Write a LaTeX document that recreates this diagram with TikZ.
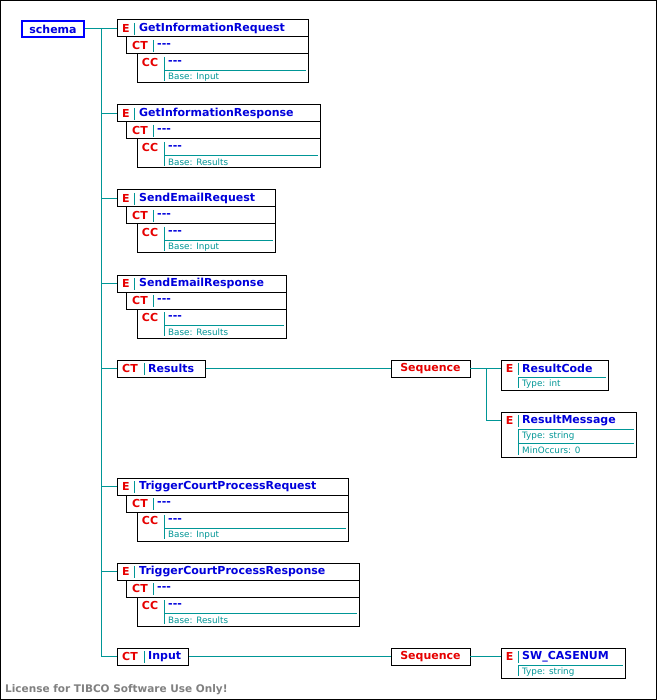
\documentclass[tikz,border=0pt]{standalone}
\usepackage{fontspec}
\setmainfont{DejaVu Sans}
\definecolor{tl}{RGB}{0,150,150}
\definecolor{rd}{RGB}{230,0,0}
\definecolor{bl}{RGB}{0,0,220}
\begin{document}
\begin{tikzpicture}[x=1pt,y=-1pt,
  box/.style={draw=black,fill=white,line width=1pt},
  conn/.style={draw=tl,line width=1pt},
  sep/.style={draw=tl,line width=0.8pt},
  kw/.style={text=rd,font=\fontsize{11}{12}\selectfont\bfseries,inner sep=0pt},
  nm/.style={text=bl,font=\fontsize{11}{12}\selectfont\bfseries,inner sep=0pt,anchor=west},
  sm/.style={text=tl,font=\fontsize{8.8}{9}\selectfont,inner sep=0pt,anchor=west}]
\useasboundingbox (0,0) rectangle (657,700);
\draw[black,line width=1pt] (0.5,0.5) rectangle (656.5,699.5);
% schema
\draw[conn] (85,29) -- (101,29) -- (101,657);
\draw[draw=blue,line width=2pt,fill=white] (22,21) rectangle (84,37);
\node[text=bl,font=\fontsize{11}{12}\selectfont\bfseries] (schema) at (53,29) {schema};
\newcommand\grp[5]{%
  \draw[conn] (101,{#2+8.5}) -- (117,{#2+8.5});
  \draw[box] (117,#2) rectangle (#3,{#2+17});
  \draw[sep] (134,{#2+3}) -- (134,{#2+15});
  \node[kw] (#1e) at (126,{#2+8.5}) {E};
  \node[nm] (#1n) at (139,{#2+8.5}) {#4};
  \draw[box] (126,{#2+17}) rectangle (#3,{#2+34});
  \draw[sep] (153,{#2+20}) -- (153,{#2+32});
  \node[kw] (#1ct) at (140,{#2+25.5}) {CT};
  \node[nm] (#1ctn) at (157,{#2+25.5}) {{-}{-}{-}};
  \draw[box] (137,{#2+34}) rectangle (#3,{#2+63});
  \draw[sep] (164,{#2+37}) -- (164,{#2+61});
  \draw[sep] (164,{#2+50}) -- ({#3-2},{#2+50});
  \node[kw] (#1cc) at (150,{#2+42.5}) {CC};
  \node[nm] (#1ccn) at (168,{#2+42.5}) {{-}{-}{-}};
  \node[sm] (#1b) at (168,{#2+57}) {Base: #5};
}
\grp{a}{20}{308}{GetInformationRequest}{Input}
\grp{b}{105}{320}{GetInformationResponse}{Results}
\grp{c}{190}{275}{SendEmailRequest}{Input}
\grp{d}{275}{286}{SendEmailResponse}{Results}
\grp{e}{478}{348}{TriggerCourtProcessRequest}{Input}
\grp{f}{563}{359}{TriggerCourtProcessResponse}{Results}
\newcommand\ctseq[4]{%
  \draw[conn] (101,{#2+8.5}) -- (117,{#2+8.5});
  \draw[conn] (#3,{#2+8.5}) -- (391,{#2+8.5});
  \draw[box] (117,#2) rectangle (#3,{#2+17});
  \draw[sep] (144,{#2+3}) -- (144,{#2+15});
  \node[kw] (#1ct) at (130,{#2+8.5}) {CT};
  \node[nm] (#1n) at (148,{#2+8.5}) {#4};
  \draw[box] (391,#2) rectangle (470,{#2+17});
  \node[kw] (#1seq) at (430.5,{#2+8.5}) {Sequence};
}
\newcommand\elem[4]{%
  \draw[sep] (518,{#2+3}) -- (518,{#2+15});
  \node[kw] (#1e) at (509.5,{#2+8.5}) {E};
  \node[nm] (#1n) at (522,{#2+8.5}) {#4};
}
\ctseq{r}{360}{205}{Results}
\draw[conn] (470,368.5) -- (501,368.5);
\draw[conn] (486,368.5) -- (486,420.5) -- (501,420.5);
\draw[box] (501,360) rectangle (608,390);
\elem{rc}{360}{608}{ResultCode}
\draw[sep] (518,377) -- (606,377); \draw[sep] (518,377) -- (518,388);
\node[sm] at (522,384) {Type: int};
\draw[box] (501,412) rectangle (636,457);
\elem{rm}{412}{636}{ResultMessage}
\draw[sep] (518,429) -- (634,429); \draw[sep] (518,443) -- (634,443); \draw[sep] (518,429) -- (518,455);
\node[sm] at (522,436) {Type: string};
\node[sm] at (522,450) {MinOccurs: 0};
\ctseq{i}{648}{188}{Input}
\draw[conn] (470,656.5) -- (501,656.5);
\draw[box] (501,648) rectangle (625,678);
\elem{sw}{648}{625}{SW\_CASENUM}
\draw[sep] (518,665) -- (623,665); \draw[sep] (518,665) -- (518,676);
\node[sm] at (522,672) {Type: string};
\node[anchor=west,inner sep=0pt,text=gray,font=\fontsize{10.5}{11}\selectfont\bfseries] (lic) at (5,690) {License for TIBCO Software Use Only!};
\end{tikzpicture}
\end{document}
